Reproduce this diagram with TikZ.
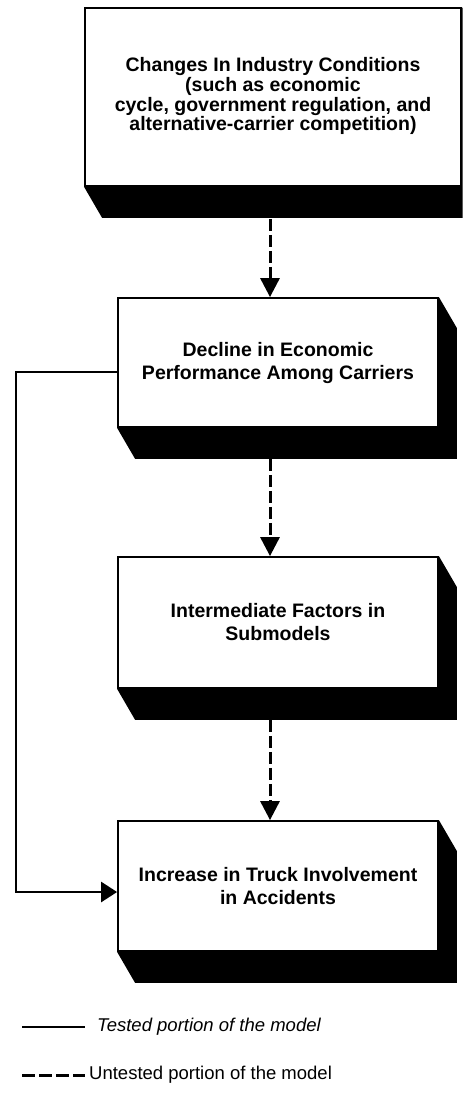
\documentclass[tikz,border=0pt]{standalone}
\usepackage{fontspec}
\setmainfont{Liberation Sans}
\usetikzlibrary{arrows.meta}
\tikzset{
  box/.style={draw=black, line width=1.8pt, fill=white, align=center, inner sep=0pt,
              font=\bfseries\fontsize{19.5}{23}\selectfont},
  untested/.style={line width=3pt, dash pattern=on 12pt off 4pt,
              -{Triangle[length=19pt,width=19pt]}},
  tested/.style={line width=2.6pt, -{Triangle[length=16pt,width=20pt]}},
  legtext/.style={anchor=west, inner sep=0pt, font=\fontsize{18.5}{20}\selectfont},
}
\newcommand{\extrude}[1]{%
  \fill[black] (#1.south west) -- ([shift={(18,31)}]#1.south west)
    -- ([shift={(18,31)}]#1.south east) -- ([shift={(18,31)}]#1.north east)
    -- (#1.north east) -- (#1.south east) -- cycle;}
\begin{document}
\begin{tikzpicture}[x=1pt,y=-1pt]
\useasboundingbox (0,0) rectangle (470,1109);
\begin{scope}
\clip (0,0) rectangle (462.5,1109);
\node[box, minimum width=376pt, minimum height=178pt,
      font=\bfseries\fontsize{19.5}{18.5}\selectfont] (b1) at (273,97)
  {\raisebox{6pt}{\begin{tabular}{@{}c@{}}Changes In Industry Conditions\\(such as economic\\cycle, government regulation, and\\alternative-carrier competition)\end{tabular}}};
\extrude{b1}
\end{scope}
\node[box, minimum width=320pt, minimum height=129pt] (b2) at (278,362.5)
  {Decline in Economic\\Performance Among Carriers};
\extrude{b2}
\node[box, minimum width=320pt, minimum height=131pt] (b3) at (278,622.5)
  {Intermediate Factors in\\Submodels};
\extrude{b3}
\node[box, minimum width=320pt, minimum height=130pt] (b4) at (278,886)
  {Increase in Truck Involvement\\in Accidents};
\extrude{b4}
% dashed (untested) connectors
\coordinate (ax) at (270,0);
\draw[untested] ([yshift=-32pt]b1.south -| ax) -- (ax |- b2.north);
\draw[untested] ([yshift=-31pt]b2.south -| ax) -- (ax |- b3.north);
\draw[untested] ([yshift=-31pt]b3.south -| ax) -- (ax |- b4.north);
% solid (tested) connector
\coordinate (c1) at (16,372);
\draw[tested] ([yshift=-9.5pt]b2.west) -- (c1) |- ([yshift=-6pt]b4.west);
% legend
\coordinate (l1a) at (22,1027);
\coordinate (l1b) at (85,1027);
\coordinate (l2a) at (22,1075);
\coordinate (l2b) at (85,1075);
\draw[line width=2.2pt] (l1a) -- (l1b);
\node[legtext, font=\itshape\fontsize{18.5}{20}\selectfont] (t1) at (97,1027) {Tested portion of the model};
\draw[line width=3pt, dash pattern=on 13pt off 4pt] (l2a) -- (l2b);
\node[legtext] (t2) at (89,1075) {Untested portion of the model};
\end{tikzpicture}
\end{document}
